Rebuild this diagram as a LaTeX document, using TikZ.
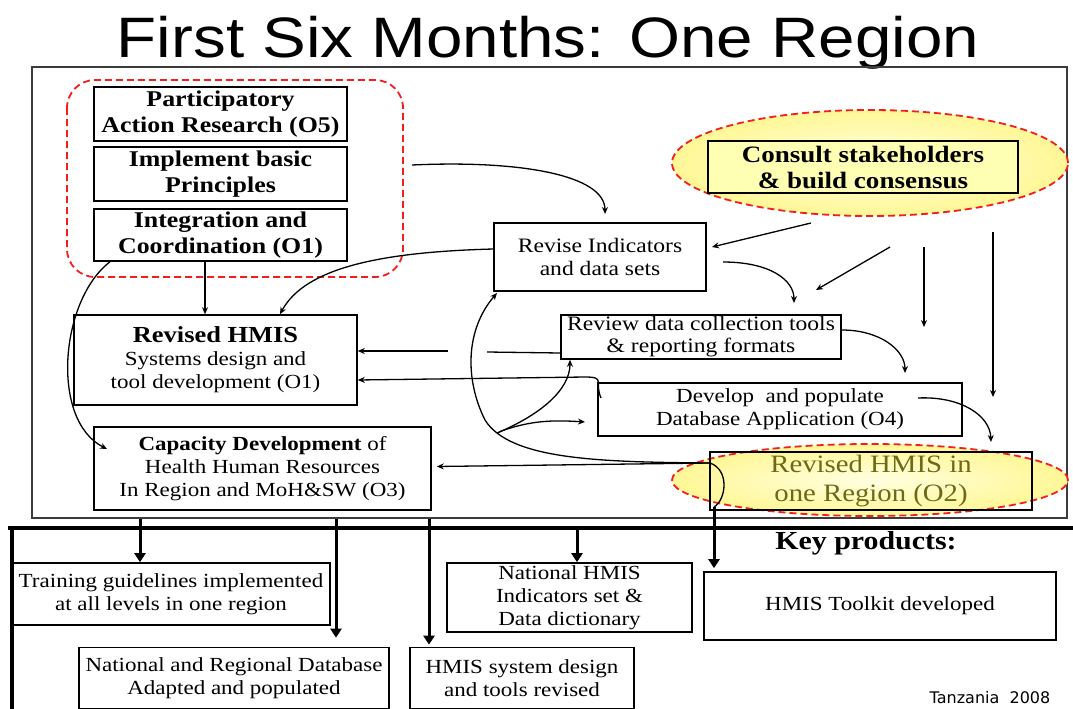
\documentclass[tikz,border=0pt]{standalone}
\usepackage{fontspec}
\setmainfont[FakeStretch=1.15]{Liberation Serif}
\newfontfamily\titlefont[FakeStretch=1.15]{Liberation Sans}
\newfontfamily\tzfont{DejaVu Sans}
\usetikzlibrary{arrows.meta,shapes.geometric,calc}
\definecolor{framegray}{RGB}{60,60,60}
\definecolor{dashred}{RGB}{245,30,30}
\definecolor{ylwin}{RGB}{255,255,225}
\definecolor{ylwout}{RGB}{255,247,150}
\definecolor{ylwbox}{RGB}{255,255,180}
\definecolor{olivetext}{RGB}{110,105,20}
\begin{document}
\begin{tikzpicture}[x=1pt,y=-1pt,
  box/.style={draw=black,line width=1.6pt,rectangle,inner sep=0pt,align=center},
  bigbold/.style={font=\fontsize{22.5}{26}\selectfont\bfseries},
  plain/.style={font=\fontsize{20}{23}\selectfont},
  reddash/.style={draw=dashred,line width=1.8pt,dash pattern=on 7pt off 4pt},
  yell/.style={ellipse,inner sep=0pt,reddash,shading=radial,inner color=ylwin,outer color=ylwout},
  thinarr/.style={line width=1.3pt,-{Stealth[length=7pt,width=6pt]}},
  thinline/.style={line width=1.3pt},
  thickarr/.style={line width=3pt,-{Triangle[length=9pt,width=11pt]}}
]
\useasboundingbox (0,0) rectangle (1073,709);

% title
\node[anchor=base,font=\titlefont\fontsize{57}{60}\selectfont] (title) at (548,58) {First Six Months: One Region};

% frame of the upper part
\node[draw=framegray,line width=2pt,minimum width=1035pt,minimum height=451pt,inner sep=0pt] (frame) at (549.5,292.5) {};

% red dashed group
\draw[reddash,rounded corners=28pt] (67,80) rectangle (403,277);

\node[box,bigbold,minimum width=253pt,minimum height=54pt] (par) at (220.5,114) {Participatory\\Action Research (O5)};
\node[box,bigbold,minimum width=253pt,minimum height=54pt] (imp) at (220.5,174) {Implement basic\\Principles};
\node[box,bigbold,minimum width=253pt,minimum height=52pt] (integ) at (220.5,235) {Integration and\\Coordination (O1)};

% consult stakeholders
\node[yell,minimum width=396pt,minimum height=106pt] (cell) at (870,163) {};
\node[box,fill=ylwbox,font=\fontsize{23.5}{26}\selectfont\bfseries,minimum width=310pt,minimum height=52pt] (consult) at (863,167) {Consult stakeholders\\\& build consensus};

% middle boxes
\node[box,font=\fontsize{20.5}{23}\selectfont,minimum width=212pt,minimum height=68pt] (revind) at (600,257) {Revise Indicators\\and data sets};
\node[box,plain,minimum width=283pt,minimum height=90pt] (hmis) at (215.5,360) {{\fontsize{23}{26}\selectfont\bfseries Revised HMIS}\\Systems design and\\tool development (O1)};
\node[box,font=\fontsize{20.5}{22}\selectfont,minimum width=280pt,minimum height=44pt] (review) at (701,337) {Review data collection tools\\\& reporting formats};
\node[box,font=\fontsize{20}{23}\selectfont,minimum width=364pt,minimum height=53pt] (devdb) at (780,409.5) {Develop~ and populate\\Database Application (O4)};
\node[box,plain,minimum width=337pt,minimum height=83pt] (cap) at (262.5,468.5) {\textbf{Capacity Development} of\\Health Human Resources\\In Region and MoH\&SW (O3)};

% revised HMIS in one region
\node[yell,minimum width=396pt,minimum height=72pt] (o2ell) at (870,480) {};
\node[box,text=olivetext,font=\fontsize{25}{29}\selectfont,minimum width=322pt,minimum height=58pt] (o2) at (871,481) {Revised HMIS in\\one Region (O2)};

% lower part frame lines
\coordinate (hl0) at (8,528);
\coordinate (hl1) at (1073,528);
\coordinate (vl1) at (12,709);
\draw[line width=3.5pt] (hl0) -- (hl1);
\draw[line width=3.5pt] (12,528) -- (vl1);

\node[anchor=base,font=\fontsize{26}{28}\selectfont\bfseries] (key) at (866,549) {Key products:};
\node[box,plain,minimum width=318pt,minimum height=62pt] (train) at (171,594) {Training guidelines implemented\\at all levels in one region};
\node[box,plain,minimum width=310pt,minimum height=61pt] (natreg) at (234,678) {National and Regional Database\\Adapted and populated};
\node[box,plain,minimum width=224pt,minimum height=61pt] (hmisdes) at (522,678) {HMIS system design\\and tools revised};
\node[box,plain,minimum width=245pt,minimum height=69pt] (natind) at (569.5,597.5) {National HMIS\\Indicators set \&\\Data dictionary};
\node[box,plain,minimum width=352pt,minimum height=68pt] (toolkit) at (880,606) {HMIS Toolkit developed};
\node[anchor=base,font=\tzfont\fontsize{16}{18}\selectfont] (tz) at (990,703) {Tanzania\ \ 2008};

% free ends of connectors
\coordinate (s1) at (412,165);  \coordinate (t1) at (605,214);
\coordinate (t3) at (107,449);
\coordinate (s5) at (811,223);  \coordinate (t5) at (712,247);
\coordinate (s6) at (890,247);  \coordinate (t6) at (816,290);
\coordinate (s7) at (924,247);  \coordinate (t7) at (924,327);
\coordinate (s8) at (993,232);  \coordinate (t8) at (993,397);
\coordinate (s9) at (723,262);  \coordinate (t9) at (794,303);
\coordinate (t10) at (905,373);
\coordinate (s11) at (918,398); \coordinate (t11) at (991,442);
\coordinate (g1) at (487,352);  \coordinate (g2) at (448,351);
\coordinate (s13) at (601,398);
\coordinate (s14) at (710,463);
\coordinate (t15) at (497,293);
\coordinate (f1) at (497,433);  \coordinate (f2) at (499,432);
\coordinate (t17) at (585,422);
\coordinate (hk) at (714,507);

% connectors, upper part
\draw[thinarr] (s1) .. controls (520,160) and (605,175) .. (t1);
\draw[thinarr] (205,0 |- integ.south) -- (205,0 |- hmis.north);
\draw[thinarr] (110,0 |- integ.south) .. controls (60,300) and (50,420) .. (t3);
\draw[thinarr] ($(revind.west)+(0,-8)$) .. controls (380,252) and (305,268) .. (280,0 |- hmis.north);
\draw[thinarr] (s5) -- (t5);
\draw[thinarr] (s6) -- (t6);
\draw[thinarr] (s7) -- (t7);
\draw[thinarr] (s8) -- (t8);
\draw[thinarr] (s9) .. controls (770,262) and (794,280) .. (t9);
\draw[thinarr] ($(review.east)+(0,-7)$) .. controls (880,330) and (905,350) .. (t10);
\draw[thinarr] (s11) .. controls (960,396) and (990,415) .. (t11);
\draw[thinline] ($(review.west)+(0,16)$) -- (g1);
\draw[thinarr] (g2) -- ($(hmis.east)+(0,-9)$);
\draw[thinarr] (s13) .. controls (594,382) and (606,377) .. (585,377) -- ($(hmis.east)+(0,20)$);
\draw[thinarr] (s14) -- ($(cap.east)+(5,-2)$);
\draw[thinarr] (s14) .. controls (600,462) and (510,460) .. (485,420) .. controls (465,380) and (465,330) .. (t15);
\draw[thinarr] (f1) .. controls (540,415) and (570,390) .. (570,0 |- review.south);
\draw[thinarr] (f2) .. controls (530,420) and (555,420) .. (t17);
\draw[thinline] (s14) .. controls (730,470) and (726,500) .. (hk);

% thick arrows to key products
\draw[thickarr] (140,0 |- frame.south) -- (140,0 |- train.north);
\draw[thickarr,shorten >=9pt] (336,0 |- frame.south) -- (336,0 |- natreg.north);
\draw[thickarr,shorten >=2pt] (429,0 |- frame.south) -- (429,0 |- hmisdes.north);
\draw[thickarr] (577,0 |- hl0) -- (577,0 |- natind.north);
\draw[thickarr,shorten >=3pt] (hk) -- (714,0 |- toolkit.north);
\end{tikzpicture}
\end{document}
